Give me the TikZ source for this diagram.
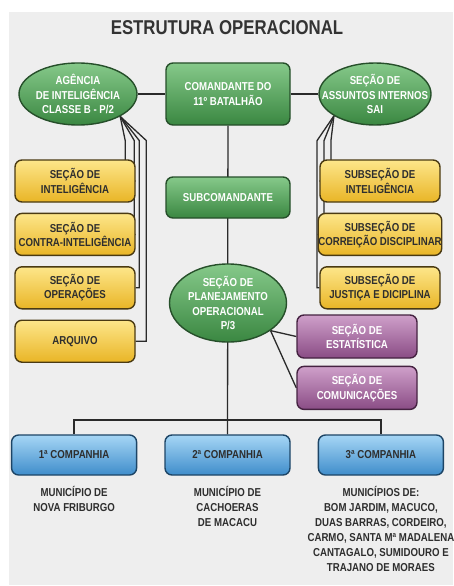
\documentclass[tikz,border=0pt]{standalone}
\usepackage{fontspec}
\setmainfont{Liberation Sans}[FakeStretch=0.84]
\usepackage{xcolor}
\usepackage{tikz}
\usetikzlibrary{shapes.geometric, positioning, calc}

\pgfdeclarelayer{back}
\pgfsetlayers{back,main}

\definecolor{bgray}{HTML}{EEEEEE}
\definecolor{linecol}{HTML}{2A2A2A}
\definecolor{titlecol}{HTML}{333333}
\definecolor{txtdark}{HTML}{2E2E2E}
\definecolor{grntop}{HTML}{86C98A}
\definecolor{grnmid}{HTML}{4E9F55}
\definecolor{grnbot}{HTML}{3A8741}
\definecolor{grnline}{HTML}{264F2A}
\definecolor{ylwtop}{HTML}{FDE68A}
\definecolor{ylwmid}{HTML}{F4C93E}
\definecolor{ylwbot}{HTML}{E9B526}
\definecolor{ylwline}{HTML}{4A3A12}
\definecolor{prptop}{HTML}{CFA0CA}
\definecolor{prpmid}{HTML}{A0629A}
\definecolor{prpbot}{HTML}{8A4C85}
\definecolor{prpline}{HTML}{452241}
\definecolor{blutop}{HTML}{A6D6F5}
\definecolor{blumid}{HTML}{5BAAE2}
\definecolor{blubot}{HTML}{3F8DCB}
\definecolor{bluline}{HTML}{1D4566}

\begin{document}
\begin{tikzpicture}[x=1pt, y=-1pt, node distance=10pt]
    \tikzstyle{box} = [rectangle, rounded corners=7pt, line width=1.4pt, align=center, inner sep=0pt, font=\fontsize{11.5}{14.5}\selectfont\bfseries]
    \tikzstyle{greenbox} = [box, draw=grnline, top color=grntop, middle color=grnmid, bottom color=grnbot, text=white, minimum width=124pt, minimum height=62pt]
    \tikzstyle{greenoval} = [ellipse, line width=1.4pt, draw=grnline, top color=grntop, middle color=grnmid, bottom color=grnbot, text=white, align=center, inner xsep=-20pt, inner ysep=-10pt, minimum height=62pt, font=\fontsize{11.5}{14.5}\selectfont\bfseries]
    \tikzstyle{yellowbox} = [box, draw=ylwline, top color=ylwtop, middle color=ylwmid, bottom color=ylwbot, text=txtdark, minimum width=120pt, minimum height=42pt]
    \tikzstyle{purplebox} = [box, draw=prpline, top color=prptop, middle color=prpmid, bottom color=prpbot, text=white, minimum width=120pt, minimum height=43pt]
    \tikzstyle{bluebox} = [box, draw=bluline, top color=blutop, middle color=blumid, bottom color=blubot, text=txtdark, minimum width=125pt, minimum height=40pt]
    \tikzstyle{munitext} = [align=center, inner sep=0pt, text=txtdark, font=\fontsize{11.5}{15}\selectfont\bfseries]
    \tikzstyle{link} = [line width=1.3pt, draw=linecol]

    \useasboundingbox (0,0) rectangle (453,586);

    \node [text=titlecol, font=\fontsize{20}{22}\selectfont\bfseries] (title) at (227,28) {ESTRUTURA OPERACIONAL};

    % comando
    \node [greenbox] (cmd) at (228,94) {COMANDANTE DO\\11º BATALHÃO};
    \node [greenoval, minimum width=118pt] (agencia) at (78,94) {AGÊNCIA\\DE INTELIGÊNCIA\\CLASSE B - P/2};
    \node [greenoval, minimum width=112pt] (sai) at (375,94) {SEÇÃO DE\\ASSUNTOS INTERNOS\\SAI};
    \node [greenbox, minimum height=41pt] (subcmd) at (228,197.5) {SUBCOMANDANTE};
    \node [greenoval, minimum width=117pt, minimum height=78pt] (plan) at (228,303) {SEÇÃO DE\\PLANEJAMENTO\\OPERACIONAL\\P/3};

    % secoes da agencia
    \node [yellowbox] (intel) at (75,181) {SEÇÃO DE\\INTELIGÊNCIA};
    \node [yellowbox, below=of intel] (contra) {SEÇÃO DE\\CONTRA-INTELIGÊNCIA};
    \node [yellowbox, below=of contra] (oper) {SEÇÃO DE\\OPERAÇÕES};
    \node [yellowbox, below=of oper] (arquivo) {ARQUIVO};

    % subsecoes da SAI
    \node [yellowbox] (subintel) at (380,181) {SUBSEÇÃO DE\\INTELIGÊNCIA};
    \node [yellowbox, below=of subintel] (subcorr) {SUBSEÇÃO DE\\CORREIÇÃO DISCIPLINAR};
    \node [yellowbox, below=of subcorr] (subjust) {SUBSEÇÃO DE\\JUSTIÇA E DICIPLINA};

    % secoes da P/3
    \node [purplebox] (estat) at (357,336.5) {SEÇÃO DE\\ESTATÍSTICA};
    \node [purplebox, below=7pt of estat] (comun) {SEÇÃO DE\\COMUNICAÇÕES};

    % companhias
    \node [bluebox] (cia2) at (227.5,455) {2ª COMPANHIA};
    \node [bluebox, left=27pt of cia2] (cia1) {1ª COMPANHIA};
    \node [bluebox, right=27pt of cia2] (cia3) {3ª COMPANHIA};

    \node [munitext, below=10pt of cia1] (muni1) {MUNICÍPIO DE\\NOVA FRIBURGO};
    \node [munitext, below=10pt of cia2] (muni2) {MUNICÍPIO DE\\CACHOERAS\\DE MACACU};
    \node [munitext, below=10pt of cia3] (muni3) {MUNICÍPIOS DE:\\BOM JARDIM, MACUCO,\\DUAS BARRAS, CORDEIRO,\\CARMO, SANTA Mª MADALENA\\CANTAGALO, SUMIDOURO E\\TRAJANO DE MORAES};

    \begin{pgfonlayer}{back}
        \fill [bgray] (9,12) rectangle (453,585);
        \draw [link] (agencia) -- (cmd) -- (sai);
        \draw [link] (cmd) -- (cia2);
        \coordinate (bar) at (228,420);
        \draw [link] (cia1) |- (bar) -| (cia3);
        % ligacoes da agencia
        \draw [link] (agencia.-28) -- ++(5,24) |- (intel);
        \draw [link] (agencia.-28) -- ++(14,24) |- (contra);
        \draw [link] (agencia.-28) -- ++(19,24) |- (oper);
        \draw [link] (agencia.-28) -- ++(26,24) |- (arquivo);
        % ligacoes da SAI
        \draw [link] (sai.-152) -- ++(-3,25) |- (subintel);
        \draw [link] (sai.-152) -- ++(-10,25) |- (subcorr);
        \draw [link] (sai.-152) -- ++(-17,25) |- (subjust);
        % ligacoes da P/3
        \draw [link] (plan.-33) -- (estat.west);
        \draw [link] (plan.-33) -- (comun.west);
    \end{pgfonlayer}
\end{tikzpicture}
\end{document}
